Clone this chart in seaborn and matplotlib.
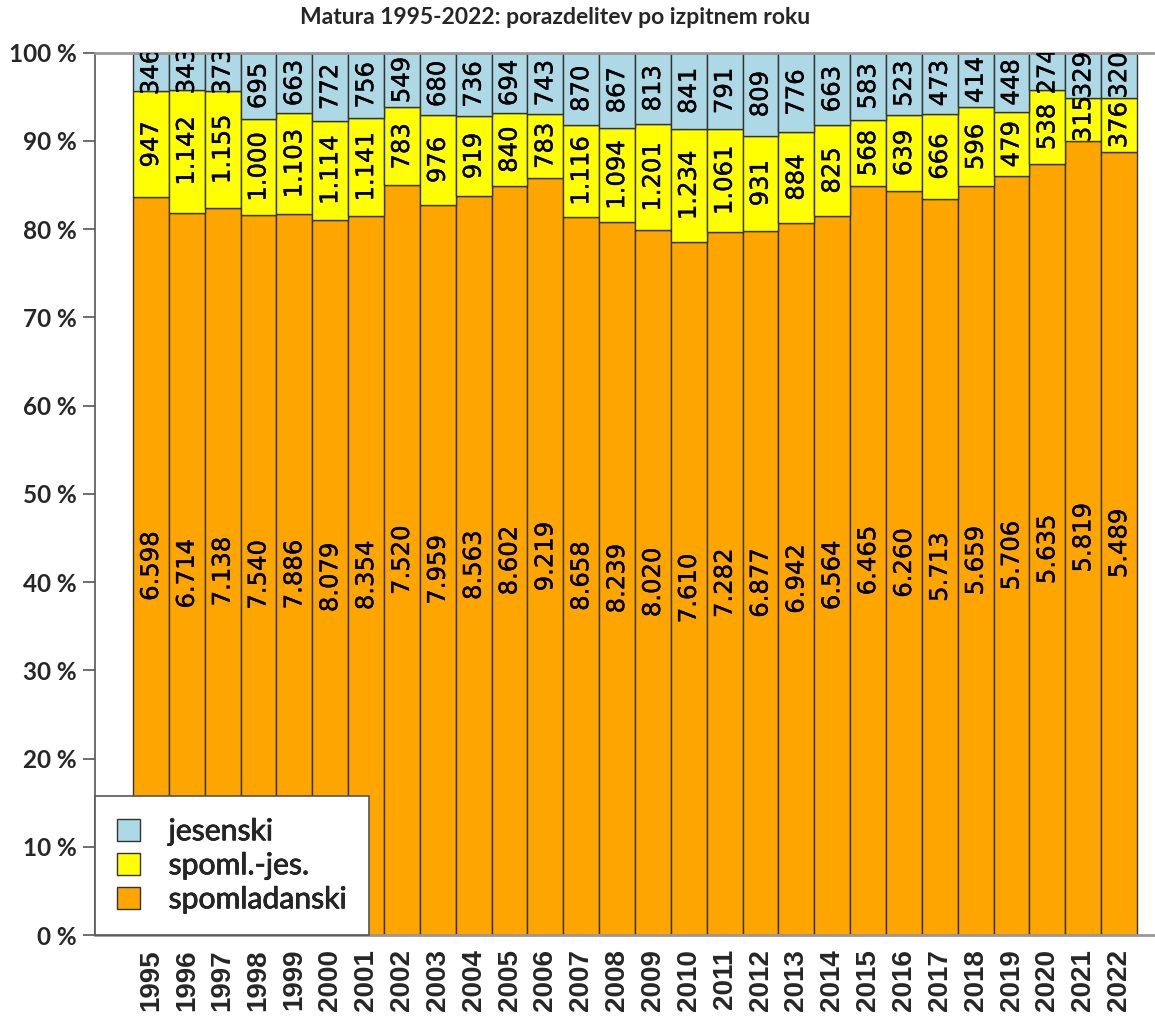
import numpy as np
import pandas as pd
import matplotlib
matplotlib.use("Agg")
import matplotlib.pyplot as plt
import matplotlib.patheffects as pe
import seaborn as sns

years = list(range(1995, 2023))
spomladanski = [6598, 6714, 7138, 7540, 7886, 8079, 8354, 7520, 7959, 8563,
                8602, 9219, 8658, 8239, 8020, 7610, 7282, 6877, 6942, 6564,
                6465, 6260, 5713, 5659, 5706, 5635, 5819, 5489]
spoml_jes = [947, 1142, 1155, 1000, 1103, 1114, 1141, 783, 976, 919,
             840, 783, 1116, 1094, 1201, 1234, 1061, 931, 884, 825,
             568, 639, 666, 596, 479, 538, 315, 376]
jesenski = [346, 343, 373, 695, 663, 772, 756, 549, 680, 736,
            694, 743, 870, 867, 813, 841, 791, 809, 776, 663,
            583, 523, 473, 414, 448, 274, 329, 320]
series_names = ["jesenski", "spoml.-jes.", "spomladanski"]
colors = {"jesenski": "#ADD8E6", "spoml.-jes.": "#FFFF00", "spomladanski": "#FFA500"}
title = "Matura 1995-2022: porazdelitev po izpitnem roku"

df = pd.DataFrame({
    "leto": years * 3,
    "rok": ["spomladanski"] * 28 + ["spoml.-jes."] * 28 + ["jesenski"] * 28,
    "n": spomladanski + spoml_jes + jesenski,
})

sns.set_style("white")
plt.rcParams["font.family"] = ["Lato", "DejaVu Sans"]

W, H = 1155, 1021
fig = plt.figure(figsize=(W / 100, H / 100), dpi=100)
left, right, top, bottom = 95, 1155, 52.7, 935
ax = fig.add_axes([left / W, 1 - bottom / H, (right - left) / W, (bottom - top) / H])

sns.histplot(data=df, x="leto", weights="n", hue="rok", hue_order=series_names,
             multiple="fill", discrete=True, shrink=1, palette=colors,
             edgecolor="#333333", linewidth=1, alpha=1, ax=ax)

# segment labels
stroke = [pe.withStroke(linewidth=0.3, foreground="black")]
for i, yr in enumerate(years):
    vals = [spomladanski[i], spoml_jes[i], jesenski[i]]
    tot = sum(vals)
    base = 0.0
    for v in vals:
        f = v / tot
        ax.text(yr, base + f / 2, f"{v:,}".replace(",", "."), rotation=90,
                ha="center", va="center", fontsize=17.5, family="DejaVu Sans",
                color="black", clip_on=True, zorder=3, path_effects=stroke)
        base += f

ax.set_ylim(0, 1)
ax.set_xlim(years[0] - 1.56, years[-1] + 1.0)
yt = np.round(np.arange(0, 1.01, 0.1), 2)
ax.set_yticks(yt)
ax.set_yticklabels([f"{int(round(v * 100))} %" for v in yt], fontsize=17.5,
                   fontweight="bold", family="Lato")
ax.set_xticks(years)
ax.set_xticklabels([str(y) for y in years], rotation=90, fontsize=20,
                   fontweight="bold", family="Liberation Sans")
ax.tick_params(axis="y", length=9, width=1.2, color="#555555", direction="out",
               left=True, pad=4)
ax.tick_params(axis="x", length=0, pad=10)
ax.set_xlabel("")
ax.set_ylabel("")
ax.grid(False)

for s in ["top", "bottom"]:
    ax.spines[s].set_color("#999999")
    ax.spines[s].set_linewidth(2)
ax.spines["left"].set_color("#555555")
ax.spines["left"].set_linewidth(1.2)
ax.spines["right"].set_visible(False)

sns.move_legend(ax, "lower left", bbox_to_anchor=(0, 0), title=None, frameon=True,
                fancybox=False, framealpha=1, edgecolor="#555555",
                prop={"family": "Lato", "size": 21.7},
                handlelength=0.77, handleheight=0.77, handletextpad=0.95,
                borderpad=0.72, borderaxespad=0, labelspacing=0.2)
leg = ax.get_legend()
leg.get_frame().set_linewidth(1.2)
leg.set_zorder(10)
for t in leg.get_texts():
    t.set_path_effects([pe.withStroke(linewidth=0.5, foreground="black")])

fig.text(555 / W, 1 - 18 / H, title, ha="center", va="center", fontsize=16.5,
         fontweight="bold", family="Lato")

fig.savefig("out.png", dpi=100, facecolor="white")
